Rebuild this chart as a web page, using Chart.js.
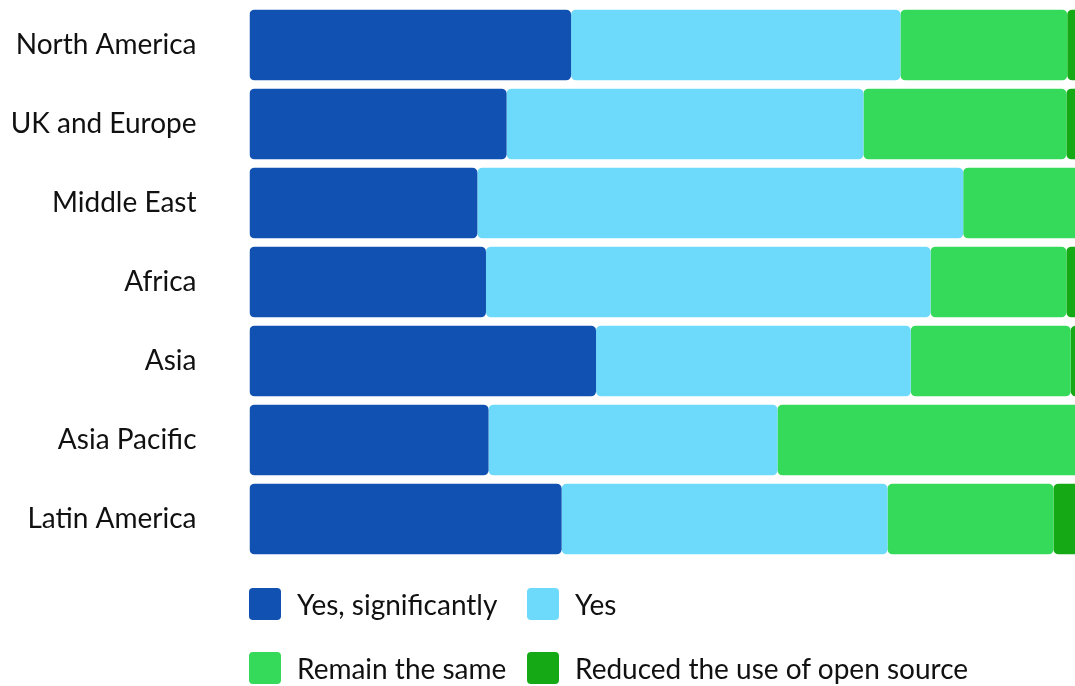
<!DOCTYPE html>
<html>
<head>
<meta charset="utf-8">
<script src="https://cdn.jsdelivr.net/npm/chart.js@4.4.1/dist/chart.umd.min.js"></script>
<style>
    body { margin: 0; background: #fff; overflow: hidden; }
    #wrap { position: relative; width: 1075px; height: 686px; }
    #legend {
        position: absolute;
        left: 249px;
        top: 588px;
        display: grid;
        grid-template-columns: 278px auto;
        row-gap: 32px;
        font-family: Lato, sans-serif;
        font-size: 28px;
        color: #111;
    }
    .item { display: flex; align-items: center; height: 32px; }
    .box { width: 32px; height: 32px; border-radius: 4px; margin-right: 16px; }
</style>
</head>
<body>
<div id="wrap">
    <canvas id="chart" width="1075" height="686"></canvas>
    <div id="legend"></div>
</div>
<script>
const regions = ['North America', 'UK and Europe', 'Middle East', 'Africa', 'Asia', 'Asia Pacific', 'Latin America'];
const seriesNames = ['Yes, significantly', 'Yes', 'Remain the same', 'Reduced the use of open source'];
const yesSignificantly = [37.4, 29.9, 26.5, 27.5, 40.3, 27.8, 36.3];
const yes = [38.3, 41.5, 56.5, 51.7, 36.6, 33.6, 37.9];
const remainSame = [19.4, 23.6, 14.0, 15.8, 18.6, 35.6, 19.3];
const reduced = [4.9, 5.0, 3.0, 5.0, 4.5, 3.0, 6.5];
const colors = ['#1151b2', '#6dd9fb', '#36da5a', '#16a916'];

const seriesData = [yesSignificantly, yes, remainSame, reduced];

const ctx = document.getElementById('chart').getContext('2d');

const chart = new Chart(ctx, {
    type: 'bar',
    data: {
        labels: regions,
        datasets: seriesData.map((values, i) => ({
            label: seriesNames[i],
            data: values,
            backgroundColor: colors[i],
            borderWidth: 0,
            borderRadius: { topLeft: 5, topRight: 5, bottomLeft: 5, bottomRight: 5 },
            borderSkipped: false,
            categoryPercentage: 1,
            barPercentage: 0.895
        }))
    },
    options: {
        indexAxis: 'y',
        responsive: false,
        animation: false,
        layout: {
            padding: { top: 5.5, bottom: 127.5, left: 0, right: 0 }
        },
        plugins: {
            legend: { display: false },
            tooltip: { enabled: false }
        },
        scales: {
            x: {
                stacked: true,
                display: false,
                min: 0,
                max: 96
            },
            y: {
                stacked: true,
                grid: { display: false, drawTicks: false },
                border: { display: false },
                ticks: {
                    padding: 53,
                    color: '#111',
                    font: { family: 'Lato', size: 28 }
                },
                afterFit: (scale) => {
                    scale.width = 249.5;
                    // big tick padding otherwise pushes the plot down
                    scale.paddingTop = 0;
                    scale.paddingBottom = 0;
                }
            }
        }
    }
});

// build the legend from the datasets, two columns
const legend = document.getElementById('legend');
chart.data.datasets.forEach(ds => {
    const item = document.createElement('div');
    item.className = 'item';
    item.innerHTML = `<span class="box" style="background:${ds.backgroundColor}"></span><span>${ds.label}</span>`;
    legend.appendChild(item);
});
</script>
</body>
</html>
